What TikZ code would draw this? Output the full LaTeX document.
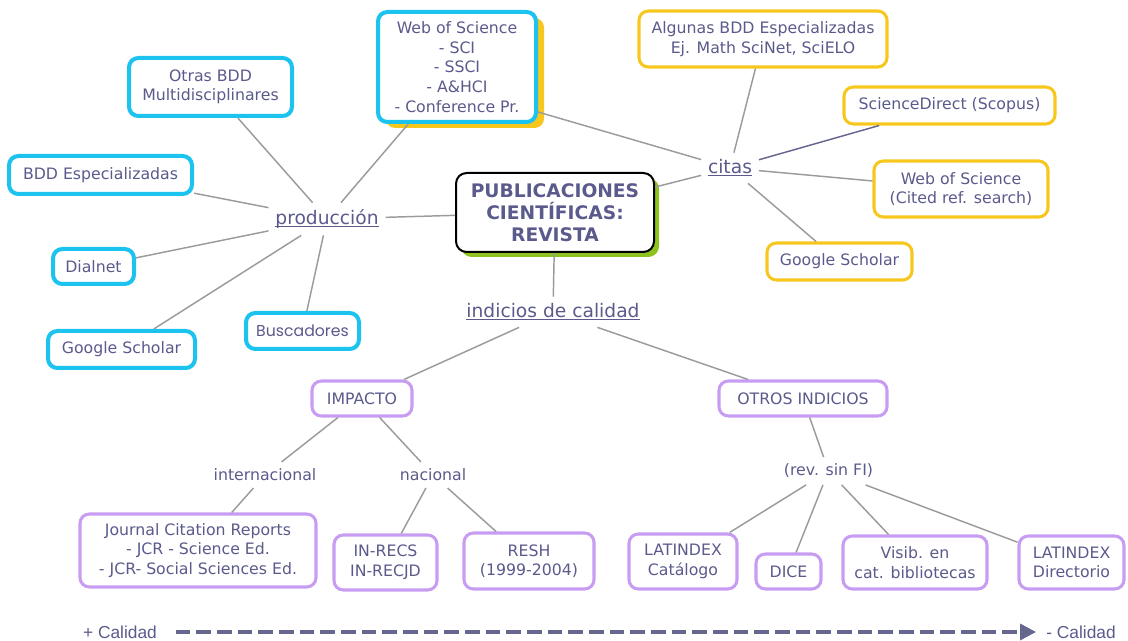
\documentclass[tikz,border=0pt]{standalone}
\usepackage{fontspec}
\setmainfont{DejaVu Sans}
\newfontfamily\libsans{Liberation Sans}
\newfontfamily\popfont{Poppins}
\usetikzlibrary{shadows,arrows.meta,calc}
\definecolor{txt}{HTML}{5A5A8C}
\definecolor{cyanb}{HTML}{1CC3EE}
\definecolor{yell}{HTML}{F7C71E}
\definecolor{purp}{HTML}{C79CF2}
\definecolor{grn}{HTML}{8DC21F}
\definecolor{lineg}{HTML}{9B9B9B}
\definecolor{darkline}{HTML}{66668F}
\newcommand\myul[1]{\setbox0\hbox{#1}\rlap{\rule[-2pt]{\wd0}{0.9pt}}\box0}
\begin{document}
\begin{tikzpicture}[x=0.75pt,y=-0.75pt,
 every node/.style={text=txt, font=\fontsize{11.8}{14.7}\selectfont},
 bx/.style={draw, rounded corners=7pt, fill=white, align=center, inner sep=0pt},
 cy/.style={bx, draw=cyanb, line width=3pt},
 ye/.style={bx, draw=yell, line width=2.3pt},
 pu/.style={bx, draw=purp, line width=2.3pt},
 sz/.style 2 args={minimum width=#1*0.75pt, minimum height=#2*0.75pt},
 lbl/.style={inner sep=5pt, font=\fontsize{14}{16}\selectfont},
 sublbl/.style={inner sep=5pt},
 ln/.style={draw=lineg, line width=1.1pt},
 qarrow/.style={draw=darkline, line width=2.5pt, dash pattern=on 11pt off 4.5pt, -{Triangle[length=12pt,width=12pt]}},
]
\useasboundingbox (0,0) rectangle (1128,641);

% left cluster
\node[cy, sz={158}{110}, drop shadow={shadow xshift=6pt, shadow yshift=-4.5pt, fill=yell, opacity=1}] (wos) at (457,67) {Web of Science\\- SCI\\- SSCI\\- A\&HCI\\- Conference Pr.};
\node[cy, sz={163}{58}] (otras) at (210.5,87) {Otras BDD\\Multidisciplinares};
\node[cy, sz={183}{38}] (bddesp) at (100.5,175) {BDD Especializadas};
\node[cy, sz={81}{35}] (dialnet) at (93.5,266.5) {Dialnet};
\node[cy, sz={147}{37}] (gsl) at (121.5,349.5) {Google Scholar};
\node[cy, sz={113}{36}, font=\popfont\fontsize{11.8}{13}\selectfont] (busc) at (302.5,331) {Buscadores};
\node[lbl] (prod) at (327,219) {\myul{producción}};

% central
\node[bx, draw=black, line width=1.5pt, rounded corners=8pt, sz={198}{79},
  font=\fontsize{14}{16.3}\selectfont\bfseries,
  drop shadow={shadow xshift=3.75pt, shadow yshift=-3.75pt, fill=grn, opacity=1}] (central) at (555,212.5) {PUBLICACIONES\\CIENTÍFICAS:\\REVISTA};

% right cluster
\node[lbl] (citas) at (730,168) {\myul{citas}};
\node[ye, sz={248}{56}] (algunas) at (763,39) {Algunas BDD Especializadas\\Ej. Math SciNet, SciELO};
\node[ye, sz={211}{37}] (scid) at (949.5,105.5) {ScienceDirect (Scopus)};
\node[ye, sz={174}{56}] (wosc) at (961,189) {Web of Science\\(Cited ref. search)};
\node[ye, sz={145}{37}] (gsr) at (839.5,261.5) {Google Scholar};

% bottom tree
\node[lbl] (indicios) at (553,312) {\myul{indicios de calidad}};
\node[pu, sz={100}{35}] (impacto) at (362,398.5) {IMPACTO};
\node[pu, sz={168}{35}] (otros) at (803,398.5) {OTROS INDICIOS};
\node[sublbl] (internac) at (265,475) {internacional};
\node[sublbl] (nacional) at (433,475) {nacional};
\node[sublbl] (revsin) at (828.5,471) {(rev. sin FI)};
\node[pu, sz={236}{73}] (jcr) at (198,550.5) {Journal Citation Reports\\- JCR - Science Ed.\\- JCR- Social Sciences Ed.};
\node[pu, sz={103}{55}] (inrecs) at (385.5,562.5) {IN-RECS\\IN-RECJD};
\node[pu, sz={130}{56}] (resh) at (529,561) {RESH\\(1999-2004)};
\node[pu, sz={108}{55}] (latcat) at (683,561.5) {LATINDEX\\Catálogo};
\node[pu, sz={65}{35}] (dice) at (788.5,571.5) {DICE};
\node[pu, sz={144}{53}] (visib) at (915,562.5) {Visib. en\\cat. bibliotecas};
\node[pu, sz={105}{53}] (latdir) at (1071.5,562.5) {LATINDEX\\Directorio};

% connectors
\draw[ln] (otras) -- (prod);
\draw[ln] (wos) -- (prod);
\draw[ln] (bddesp) -- (prod);
\draw[ln] (dialnet) -- (prod);
\draw[ln] (gsl) -- (prod);
\draw[ln] (busc) -- (prod);
\draw[ln] (prod) -- (central);
\draw[ln] (central) -- (indicios);
\draw[ln] (central) -- (citas);
\draw[ln] ($(wos.south east)+(0,-12)$) -- (citas);
\draw[ln] (algunas) -- (citas);
\draw[draw=darkline, line width=1.1pt] (scid) -- (citas);
\draw[ln] (citas) -- (wosc);
\draw[ln] (citas) -- (gsr);
\draw[ln] (indicios) -- (impacto);
\draw[ln] (indicios) -- (otros);
\draw[ln] (impacto) -- (internac);
\draw[ln] (impacto) -- (nacional);
\draw[ln] (internac) -- (jcr);
\draw[ln] (nacional) -- (inrecs);
\draw[ln] (nacional) -- (resh);
\draw[ln] (otros) -- (revsin);
\draw[ln] (revsin) -- (latcat);
\draw[ln] (revsin) -- (dice);
\draw[ln] (revsin) -- (visib);
\draw[ln] (revsin) -- (latdir);

% quality axis
\node[inner sep=0pt, font=\libsans\fontsize{13}{15}\selectfont] (plus) at (120,632) {+ Calidad};
\node[inner sep=0pt, font=\libsans\fontsize{13}{15}\selectfont] (minus) at (1081,632) {- Calidad};
\draw[qarrow, shorten <=14pt, shorten >=7.5pt] (plus.east) -- (minus.west);
\end{tikzpicture}
\end{document}
